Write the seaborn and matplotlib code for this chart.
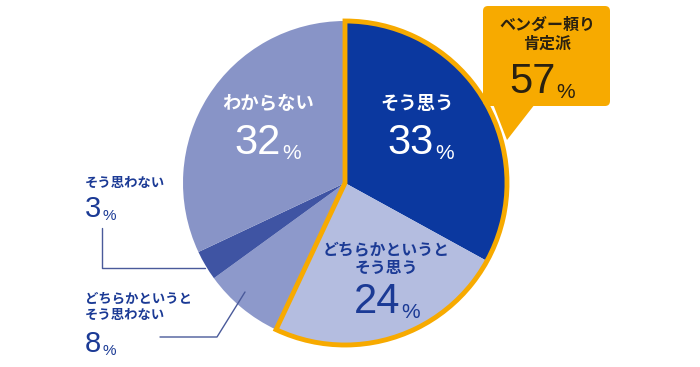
import matplotlib
matplotlib.use('Agg')
import matplotlib.pyplot as plt
import seaborn as sns
import numpy as np
from matplotlib.patches import Wedge, FancyBboxPatch, Polygon

sns.set_theme(style="white")
plt.rcParams['font.family'] = ['Noto Sans CJK JP', 'DejaVu Sans']

# data
labels = ['そう思う', 'どちらかというと\nそう思う', 'どちらかというと\nそう思わない', 'そう思わない', 'わからない']
values = [33, 24, 8, 3, 32]
colors = ['#0b389f', '#b4bde0', '#8d99cb', '#3f54a3', '#8894c7']
callout_title = 'ベンダー頼り\n肯定派'
callout_value = 57

W, H = 700, 367
TEXT_BLUE = '#1b3a95'
ORANGE = '#f7aa00'
NUM_FONT = ['Liberation Sans', 'DejaVu Sans']


def Y(y):
    return H - y


fig = plt.figure(figsize=(7, 3.67), dpi=100)
ax = fig.add_axes([0, 0, 1, 1])
ax.set_xlim(0, W)
ax.set_ylim(0, H)
ax.set_aspect('equal')
ax.axis('off')

cx, cy, r = 345, Y(183), 162
ax.pie(values, colors=colors, startangle=90, counterclock=False,
       center=(cx, cy), radius=r, wedgeprops=dict(linewidth=0))
ax.set_xlim(0, W)
ax.set_ylim(0, H)

# orange outline around the positive share
pos = values[0] + values[1]
theta2 = 90
theta1 = 90 - pos / sum(values) * 360
ax.add_patch(Wedge((cx, cy), r, theta1, theta2, fill=False,
                   edgecolor=ORANGE, linewidth=3.5, joinstyle='miter', zorder=5))

# callout box
ax.add_patch(FancyBboxPatch((483, Y(106)), 127, 100,
                            boxstyle='round,pad=0,rounding_size=5',
                            facecolor=ORANGE, edgecolor='none', zorder=6))
ax.add_patch(Polygon([(493, Y(104)), (535, Y(104)), (507, Y(140))],
                     closed=True, facecolor=ORANGE, edgecolor='none', zorder=6))


def pct(x, y, value, color, size, psize, ha='center', z=7):
    t = ax.text(x, y, str(value), color=color, fontsize=size, ha=ha, va='baseline',
                family=NUM_FONT, zorder=z)
    ax.annotate('%', xy=(1, 0), xycoords=t, xytext=(1, 0), textcoords='offset points',
                color=color, fontsize=psize, ha='left', va='bottom',
                family=NUM_FONT, zorder=z)
    return t


# callout text
ax.text(547, Y(34), callout_title, color='#2a2110', fontsize=11.5, fontweight='bold',
        ha='center', va='center', linespacing=1.2, zorder=7)
pct(532, Y(93), callout_value, '#2a2110', 30, 15)

# inner labels
ax.text(417, Y(103), labels[0], color='white', fontsize=13.2, fontweight='bold',
        ha='center', va='center')
pct(411, Y(154), values[0], 'white', 30, 15)

ax.text(268, Y(103), labels[4], color='white', fontsize=13.2, fontweight='bold',
        ha='center', va='center')
pct(258, Y(154), values[4], 'white', 30, 15)

ax.text(386, Y(259), labels[1], color=TEXT_BLUE, fontsize=11.4, fontweight='bold',
        ha='center', va='center', linespacing=1.15)
pct(377, Y(313), values[1], TEXT_BLUE, 30, 15)

# outside labels
ax.text(85, Y(183), labels[3], color=TEXT_BLUE, fontsize=9.6, fontweight='bold',
        ha='left', va='center')
pct(85, Y(217), values[3], TEXT_BLUE, 21, 11, ha='left')
ax.plot([102, 102, 205], [Y(228), Y(268), Y(268)], color='#4a5a9a', lw=1, zorder=4)

ax.text(85, Y(307), labels[2], color=TEXT_BLUE, fontsize=9.6, fontweight='bold',
        ha='left', va='center', linespacing=1.25)
pct(85, Y(352), values[2], TEXT_BLUE, 21, 11, ha='left')
ax.plot([160, 217, 245], [Y(337), Y(337), Y(292)], color='#4a5a9a', lw=1, zorder=4)

fig.savefig('out.png', dpi=100, facecolor='white')
